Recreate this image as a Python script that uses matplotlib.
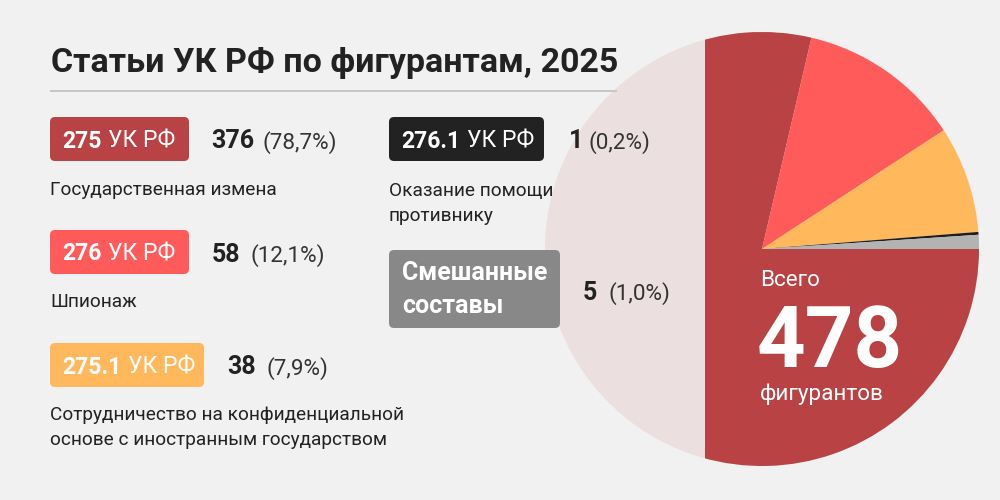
import matplotlib
matplotlib.use("Agg")
import matplotlib.pyplot as plt
from matplotlib.patches import FancyBboxPatch, Circle, Rectangle

plt.rcParams['font.family'] = ['Roboto', 'DejaVu Sans']

# ---- data ----
title = "Статьи УК РФ по фигурантам, 2025"
article_codes = ["275", "276", "275.1", "276.1"]
article_suffix = "УК РФ"
mixed_label = ["Смешанные", "составы"]
counts = [376, 58, 38, 1, 5]
pct_labels = ["(78,7%)", "(12,1%)", "(7,9%)", "(0,2%)", "(1,0%)"]
descriptions = [
    ["Государственная измена"],
    ["Шпионаж"],
    ["Сотрудничество на конфиденциальной", "основе с иностранным государством"],
    ["Оказание помощи", "противнику"],
]
total_label_top = "Всего"
total_value = 478
total_label_bottom = "фигурантов"

# ---- style ----
BG = "#f1f1f1"
TEXT = "#222222"
slice_colors = ["#b84244", "#ff5b5b", "#ffb85c", "#1e1e1e", "#b3b3b3"]
box_colors = ["#b84244", "#ff5b5b", "#ffb85c", "#222222", "#888888"]
PINK = "#ebdfe0"

W, H = 1000, 500
fig = plt.figure(figsize=(10, 5), dpi=100, facecolor=BG)
ax = fig.add_axes([0, 0, 1, 1])
ax.set_facecolor(BG)

def Y(py):
    return H - py

PX = 0.72  # px -> pt at dpi 100

# ---- pie ----
cx, cy, R = 762, 249, 217
ax.add_patch(Circle((cx, Y(cy)), R, color=PINK, lw=0, zorder=1))
wedges, _ = ax.pie(counts, colors=slice_colors, startangle=0, counterclock=False,
                   radius=R, center=(cx, Y(cy)), wedgeprops=dict(linewidth=0))
ax.set_xlim(0, W)
ax.set_ylim(0, H)
ax.set_aspect('equal')
ax.axis('off')

clip = Rectangle((705, -10), W - 705 + 10, H + 20, transform=ax.transData)
for w in wedges:
    w.set_zorder(2)
    w.set_clip_on(True)
    w.set_clip_path(clip)

renderer = fig.canvas.get_renderer()

def text_width(t):
    return t.get_window_extent(renderer=renderer).width

# ---- title ----
ax.text(51, Y(72), title, fontsize=34 * PX, fontweight='bold', color=TEXT,
        va='baseline', ha='left', zorder=5)
ax.plot([50, 617], [Y(91), Y(91)], color="#c6c6c6", lw=2 * PX, solid_capstyle='butt', zorder=5)

# ---- boxes ----
box_rects = [(50, 117, 189, 161), (50, 230, 189, 274), (50, 343, 204, 387), (389, 117, 544, 161)]
count_x = [(211, 263), (212, 251), (227, 267), (569, 588)]
desc_pos = [(50, 195), (50, 307), (50, 420), (389, 196)]

def draw_box(x0, y0, x1, y1, color):
    ax.add_patch(FancyBboxPatch((x0, Y(y1)), x1 - x0, y1 - y0,
                                boxstyle="round,pad=0,rounding_size=5",
                                fc=color, ec='none', zorder=4))

fs_box = 23 * PX
fs_box_reg = 23 * PX
fs_cnt = 25 * PX
fs_pct = 22.5 * PX
fs_desc = 19 * PX

for i, code in enumerate(article_codes):
    x0, y0, x1, y1 = box_rects[i]
    draw_box(x0, y0, x1, y1, box_colors[i])
    base = (y0 + y1) / 2 + 8.5
    t = ax.text(x0 + 12, Y(base), code, fontsize=fs_box, fontweight='bold', color='white',
                va='baseline', ha='left', zorder=6)
    wdt = text_width(t)
    ax.text(x0 + 12 + wdt + 7, Y(base), article_suffix, fontsize=fs_box_reg, color='white',
            va='baseline', ha='left', zorder=6)
    cxn, pxn = count_x[i]
    ax.text(cxn, Y(base + 1), str(counts[i]), fontsize=fs_cnt, fontweight='bold', color=TEXT,
            va='baseline', ha='left', zorder=6)
    ax.text(pxn, Y(base + 1), pct_labels[i], fontsize=fs_pct, color="#333333",
            va='baseline', ha='left', zorder=6)
    dx, dy = desc_pos[i]
    for j, line in enumerate(descriptions[i]):
        ax.text(dx, Y(dy + 25 * j), line, fontsize=fs_desc, color=TEXT,
                va='baseline', ha='left', zorder=6)

# mixed box
draw_box(389, 250, 560, 328, box_colors[4])
ax.text(402, Y(280), mixed_label[0], fontsize=25 * PX, fontweight='bold', color='white',
        va='baseline', ha='left', zorder=6)
ax.text(402, Y(313), mixed_label[1], fontsize=25 * PX, fontweight='bold', color='white',
        va='baseline', ha='left', zorder=6)
ax.text(583, Y(300), str(counts[4]), fontsize=fs_cnt, fontweight='bold', color=TEXT,
        va='baseline', ha='left', zorder=6)
ax.text(608, Y(300), pct_labels[4], fontsize=fs_pct, color="#333333",
        va='baseline', ha='left', zorder=6)

# ---- total in pie ----
ax.text(760, Y(286), total_label_top, fontsize=22.5 * PX, color='white',
        va='baseline', ha='left', zorder=6)
ax.text(757, Y(367), str(total_value), fontsize=85 * PX, fontweight='bold', color='white',
        va='baseline', ha='left', zorder=6)
ax.text(760, Y(400), total_label_bottom, fontsize=22.5 * PX, color='white',
        va='baseline', ha='left', zorder=6)

fig.savefig("out.png", dpi=100, facecolor=BG)
